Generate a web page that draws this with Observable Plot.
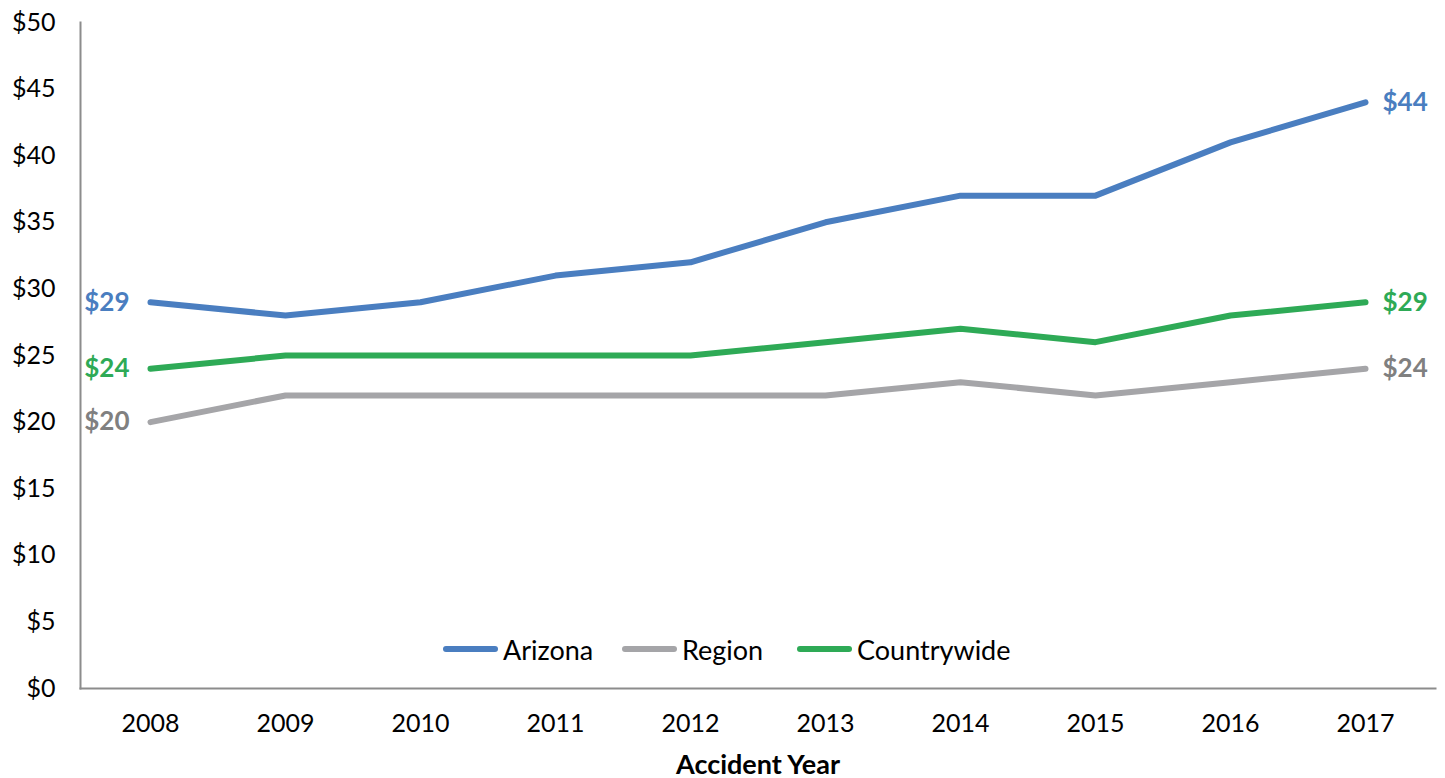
<!DOCTYPE html>
<html>
<head>
<meta charset="utf-8">
<script src="https://cdn.jsdelivr.net/npm/d3@7"></script>
<script src="https://cdn.jsdelivr.net/npm/@observablehq/plot@0.6"></script>
<style>
  html, body { margin: 0; padding: 0; background: #fff; }
  #wrap { position: relative; width: 1445px; height: 778px; font-family: Lato, "Open Sans", sans-serif; }
  #legend { position: absolute; left: 0; top: 634px; width: 1445px; font-size: 27px; color: #000; }
  .item { position: absolute; display: flex; align-items: center; height: 30px; }
  .sw { width: 55px; height: 6px; border-radius: 3px; margin-right: 5px; }
  svg [aria-label="x-axis label"] text { font-weight: bold; font-size: 27px; }
</style>
</head>
<body>
<div id="wrap"></div>
<script>
const years = ["2008","2009","2010","2011","2012","2013","2014","2015","2016","2017"];
const arizona = [29,28,29,31,32,35,37,37,41,44];
const region = [20,22,22,22,22,22,23,22,23,24];
const countrywide = [24,25,25,25,25,26,27,26,28,29];
const seriesNames = ["Arizona","Region","Countrywide"];
const lineColors = ["#4A7EC0","#A5A5A8","#2EAA56"];
const labelColors = ["#4A7EC0","#808080","#2EAA56"];
const yTicks = [0,5,10,15,20,25,30,35,40,45,50];

const seriesValues = [arizona, region, countrywide];
const data = [];
seriesNames.forEach((s, si) => years.forEach((yr, i) => data.push({series: s, year: yr, value: seriesValues[si][i]})));
const firstYear = years[0], lastYear = years[years.length - 1];
const labelColorOf = Object.fromEntries(seriesNames.map((s, i) => [s, labelColors[i]]));

const chart = Plot.plot({
  width: 1445,
  height: 778,
  marginLeft: 80,
  marginRight: 10,
  marginTop: 22,
  marginBottom: 90,
  style: {fontFamily: "Lato, 'Open Sans', sans-serif", fontSize: "25px", color: "#000", background: "#fff"},
  x: {type: "point", domain: years, padding: 0.5, label: "Accident Year"},
  y: {domain: [0, 50], ticks: yTicks},
  color: {domain: seriesNames, range: lineColors},
  marks: [
    Plot.axisY({ticks: yTicks, tickSize: 0, tickPadding: 25, tickFormat: d => "$" + d, label: null, fontSize: 25}),
    Plot.axisX({tickSize: 0, tickPadding: 26, label: "Accident Year", labelAnchor: "center", labelOffset: 85, fontSize: 25}),
    Plot.frame({anchor: "left", stroke: "#8C8C8C", strokeWidth: 2, strokeOpacity: 1}),
    Plot.frame({anchor: "bottom", stroke: "#8C8C8C", strokeWidth: 2, strokeOpacity: 1}),
    Plot.lineY(data, {x: "year", y: "value", z: "series", stroke: "series", strokeWidth: 6, strokeLinecap: "round", strokeLinejoin: "round"}),
    Plot.text(data.filter(d => d.year === firstYear), {x: "year", y: "value", text: d => "$" + d.value, fill: d => labelColorOf[d.series], textAnchor: "end", dx: -21, fontWeight: "bold", fontSize: 26}),
    Plot.text(data.filter(d => d.year === lastYear), {x: "year", y: "value", text: d => "$" + d.value, fill: d => labelColorOf[d.series], textAnchor: "start", dx: 17, fontWeight: "bold", fontSize: 26})
  ]
});
const wrap = document.getElementById("wrap");
wrap.appendChild(chart);

const legend = document.createElement("div");
legend.id = "legend";
const lefts = [443, 622, 797];
seriesNames.forEach((s, i) => {
  const it = document.createElement("div");
  it.className = "item";
  it.style.left = lefts[i] + "px";
  const sw = document.createElement("span");
  sw.className = "sw";
  sw.style.background = lineColors[i];
  const t = document.createElement("span");
  t.textContent = s;
  it.appendChild(sw); it.appendChild(t);
  legend.appendChild(it);
});
wrap.appendChild(legend);
</script>
</body>
</html>
